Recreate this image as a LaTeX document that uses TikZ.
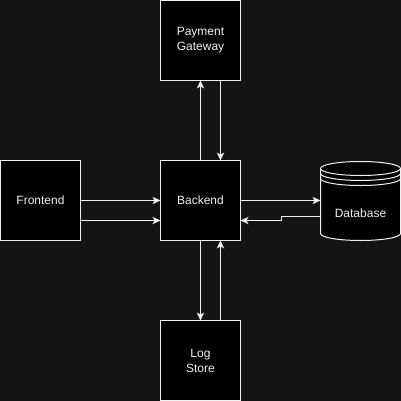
\documentclass[tikz,border=0pt]{standalone}
\usepackage{fontspec}
\setmainfont{Liberation Sans}
\usetikzlibrary{arrows.meta}
\definecolor{bgcol}{HTML}{141414}
\definecolor{fgcol}{HTML}{F0F0F0}
\newcommand{\s}{60pt}
\newcommand{\p}{0.75pt}

\begin{document}
\begin{tikzpicture}[rect/.style={draw=fgcol, fill=black, rectangle, anchor=north west, minimum width=\s, minimum height=\s, line width=\p, inner sep=0pt, outer sep=0pt, text=fgcol, align=center, font=\fontsize{9pt}{11.25pt}\selectfont},
    dbarea/.style={rect, draw=none, fill=none, text height=25pt, text depth=0pt},
    cyl/.style={draw=fgcol, fill=black, line width=\p},
    link/.style={draw=fgcol, line width=\p, -{Stealth[length=6pt, width=5.5pt, inset=1.6pt]}}]
    \path[use as bounding box, fill=bgcol] (0,0) rectangle (300.75pt,-300.75pt);
    \begin{scope}[shift={(0.375pt,-0.375pt)}]
    % Boxes
    \node[rect] (payment) at (2*\s,-0*\s) {Payment\\Gateway};
    \node[rect] (frontend) at (0*\s,-2*\s) {Frontend};
    \node[rect] (backend) at (2*\s,-2*\s) {Backend};
    \node[rect] (log) at (2*\s,-4*\s) {Log\\Store};

    % Database cylinder
    \filldraw[cyl] (4*\s,-2*\s-8*\p) -- (4*\s,-3*\s+7*\p) arc[start angle=180, end angle=360, x radius=40*\p, y radius=7*\p] -- (5*\s,-2*\s-8*\p) arc[start angle=0, end angle=180, x radius=40*\p, y radius=7*\p] -- cycle;
    \draw[cyl, fill=none] (4*\s,-2*\s-8*\p) arc[start angle=180, end angle=360, x radius=40*\p, y radius=7*\p];
    \draw[cyl, fill=none] (4*\s,-2*\s-13*\p) arc[start angle=180, end angle=360, x radius=40*\p, y radius=7*\p];
    \draw[cyl, fill=none] (4*\s,-2*\s-18*\p) arc[start angle=180, end angle=360, x radius=40*\p, y radius=7*\p];
    \node[dbarea] (db) at (4*\s,-2*\s) {Database};

    % Connectors
    \draw[link] (frontend.east) -- (backend.west);
    \draw[link] ([yshift=-20*\p]frontend.east) -- ([yshift=-20*\p]backend.west);
    \draw[link] (backend.north) -- (payment.south);
    \draw[link] ([xshift=20*\p]payment.south) -- ([xshift=20*\p]backend.north);
    \draw[link] (backend.south) -- (log.north);
    \draw[link] ([xshift=20*\p]log.north) -- ([xshift=20*\p]backend.south);
    \draw[link] (backend.east) -- (db.west);
    \draw[link] ([yshift=-16*\p]db.west) -- ++(-39*\p,0) |- ([yshift=-20*\p]backend.east);
    \end{scope}
\end{tikzpicture}
\end{document}
